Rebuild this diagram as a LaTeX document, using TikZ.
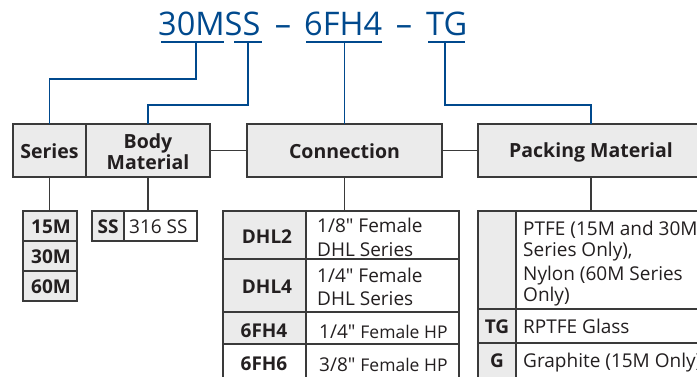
\documentclass[tikz,border=0pt]{standalone}
\usepackage{fontspec}
\setmainfont{Open Sans}[Ligatures=TeXOff]
\definecolor{ttl}{HTML}{00498D}
\definecolor{ink}{HTML}{231F20}
\definecolor{cellgray}{HTML}{EBEBEB}
\definecolor{edge}{HTML}{3A3A3A}
\begin{document}
\begin{tikzpicture}[x=1pt,y=-1pt,
  cell/.style={draw=edge, line width=1.3pt, fill=cellgray, anchor=north west, inner sep=0pt, outer sep=0pt},
  wcell/.style={cell, fill=white},
  hdr/.style={text=ink, font=\fontsize{19.5}{21}\selectfont\bfseries, inner sep=0pt},
  tb/.style={text=ink, font=\fontsize{19}{21}\selectfont\bfseries, inner sep=0pt, anchor=base},
  tr/.style={text=ink, font=\fontsize{19}{21}\selectfont, inner sep=0pt, anchor=base west},
  ttxt/.style={text=ttl, font=\fontsize{32.5}{36}\selectfont, inner sep=0pt, anchor=base west},
  bline/.style={draw=ttl, line width=1.6pt},
  gline/.style={draw=edge, line width=1.3pt}]
\useasboundingbox (0,0) rectangle (697,376);
\clip (0,0) rectangle (697,376);
% title
\node[ttxt] (t1) at (158,35) {30MSS};
\node[ttxt, anchor=base] (d1) at (283,35) {–};
\node[ttxt] (t2) at (304,35) {6FH4};
\node[ttxt, anchor=base] (d2) at (404,35) {–};
\node[ttxt] (t3) at (426,35) {TG};
\coordinate (u1a) at (161,42); \coordinate (u1b) at (224,42); \coordinate (u1) at (196,42);
\coordinate (u2a) at (234,42); \coordinate (u2b) at (262,42); \coordinate (u2) at (248,42);
\coordinate (u3a) at (306,42); \coordinate (u3b) at (382,42); \coordinate (u3) at (344.5,42);
\coordinate (u4a) at (428,42); \coordinate (u4b) at (465,42); \coordinate (u4) at (445,42);
\draw[bline] (u1a) -- (u1b);
\draw[bline] (u2a) -- (u2b);
\draw[bline] (u3a) -- (u3b);
\draw[bline] (u4a) -- (u4b);
% header boxes
\node[cell, minimum width=73pt, minimum height=53pt] (series) at (13,124) {};
\node[cell, minimum width=124pt, minimum height=53pt] (body) at (86,124) {};
\node[cell, minimum width=195pt, minimum height=53pt] (conn) at (247,124) {};
\node[cell, minimum width=226pt, minimum height=53pt] (pack) at (478,124) {};
\node[hdr, anchor=base] at (49.5,158) {Series};
\node[hdr, anchor=base] at (148,148) {Body};
\node[hdr, anchor=base] at (148,169) {Material};
\node[hdr, anchor=base] at (344.5,158) {Connection};
\node[hdr, anchor=base] at (591,157) {Packing Material};
% blue connectors
\draw[bline] (u1) -- ++(0,37) -| (series.north);
\draw[bline] (u2) -- ++(0,63) -| (body.north);
\draw[bline] (u3) -- (conn.north);
\draw[bline] (u4) -- ++(0,63) -| (pack.north);
\draw[gline] (body.east) -- (conn.west);
\draw[gline] (conn.east) -- (pack.west);
% series table
\node[cell, minimum width=54pt, minimum height=30pt] (s15) at (23,211) {};
\node[cell, minimum width=54pt, minimum height=30pt] (s30) at (23,241) {};
\node[cell, minimum width=54pt, minimum height=30pt] (s60) at (23,271) {};
\node[tb] at (51,233) {15M};
\node[tb] at (51,263) {30M};
\node[tb] at (51,293) {60M};
% body table
\node[cell, minimum width=32pt, minimum height=30pt] (ss1) at (92,211) {};
\node[wcell, minimum width=73pt, minimum height=30pt] (ss2) at (124,211) {};
\node[tb] at (108,233) {SS};
\node[tr] at (129,233) {316 SS};
% connection table
\node[cell, minimum width=83pt, minimum height=48pt] (c1a) at (223,211) {};
\node[wcell, minimum width=153pt, minimum height=48pt] (c1b) at (306,211) {};
\node[cell, minimum width=83pt, minimum height=53pt] (c2a) at (223,259) {};
\node[wcell, minimum width=153pt, minimum height=53pt] (c2b) at (306,259) {};
\node[cell, minimum width=83pt, minimum height=32pt] (c3a) at (223,312) {};
\node[wcell, minimum width=153pt, minimum height=32pt] (c3b) at (306,312) {};
\node[wcell, minimum width=83pt, minimum height=40pt] (c4a) at (223,344) {};
\node[wcell, minimum width=153pt, minimum height=40pt] (c4b) at (306,344) {};
\node[tb] at (267,243) {DHL2};
\node[tb] at (267,293) {DHL4};
\node[tb] at (264,337) {6FH4};
\node[tb] at (264,370) {6FH6};
\node[tr] at (317,232) {1/8" Female};
\node[tr] at (317,256) {DHL Series};
\node[tr] at (317,282) {1/4" Female};
\node[tr] at (317,305) {DHL Series};
\node[tr] at (319,338) {1/4" {\fontsize{17.5}{18}\selectfont Female HP}};
\node[tr] at (319,371) {3/8" {\fontsize{17.5}{18}\selectfont Female HP}};
% packing table
\node[cell, minimum width=38pt, minimum height=98pt] (p1a) at (478,211) {};
\node[wcell, minimum width=200pt, minimum height=98pt] (p1b) at (516,211) {};
\node[cell, minimum width=38pt, minimum height=34pt] (p2a) at (478,309) {};
\node[wcell, minimum width=200pt, minimum height=34pt] (p2b) at (516,309) {};
\node[cell, minimum width=38pt, minimum height=40pt] (p3a) at (478,343) {};
\node[wcell, minimum width=200pt, minimum height=40pt] (p3b) at (516,343) {};
\node[tr] at (523,235) {PTFE (15M and 30M};
\node[tr] at (523,256) {Series Only),};
\node[tr] at (523,280) {Nylon (60M Series};
\node[tr] at (523,301) {Only)};
\node[tr] at (523,333) {RPTFE Glass};
\node[tr] at (523,367) {Graphite (15M Only)};
\node[tb] at (497,333) {TG};
\node[tb] at (497,367) {G};
% drop lines
\draw[gline] (series.south) -- (series.south |- s15.north);
\draw[gline] (body.south) -- (body.south |- ss1.north);
\draw[gline] (conn.south) -- (conn.south |- c1b.north);
\draw[gline] (pack.south) -- (pack.south |- p1b.north);
\end{tikzpicture}
\end{document}
